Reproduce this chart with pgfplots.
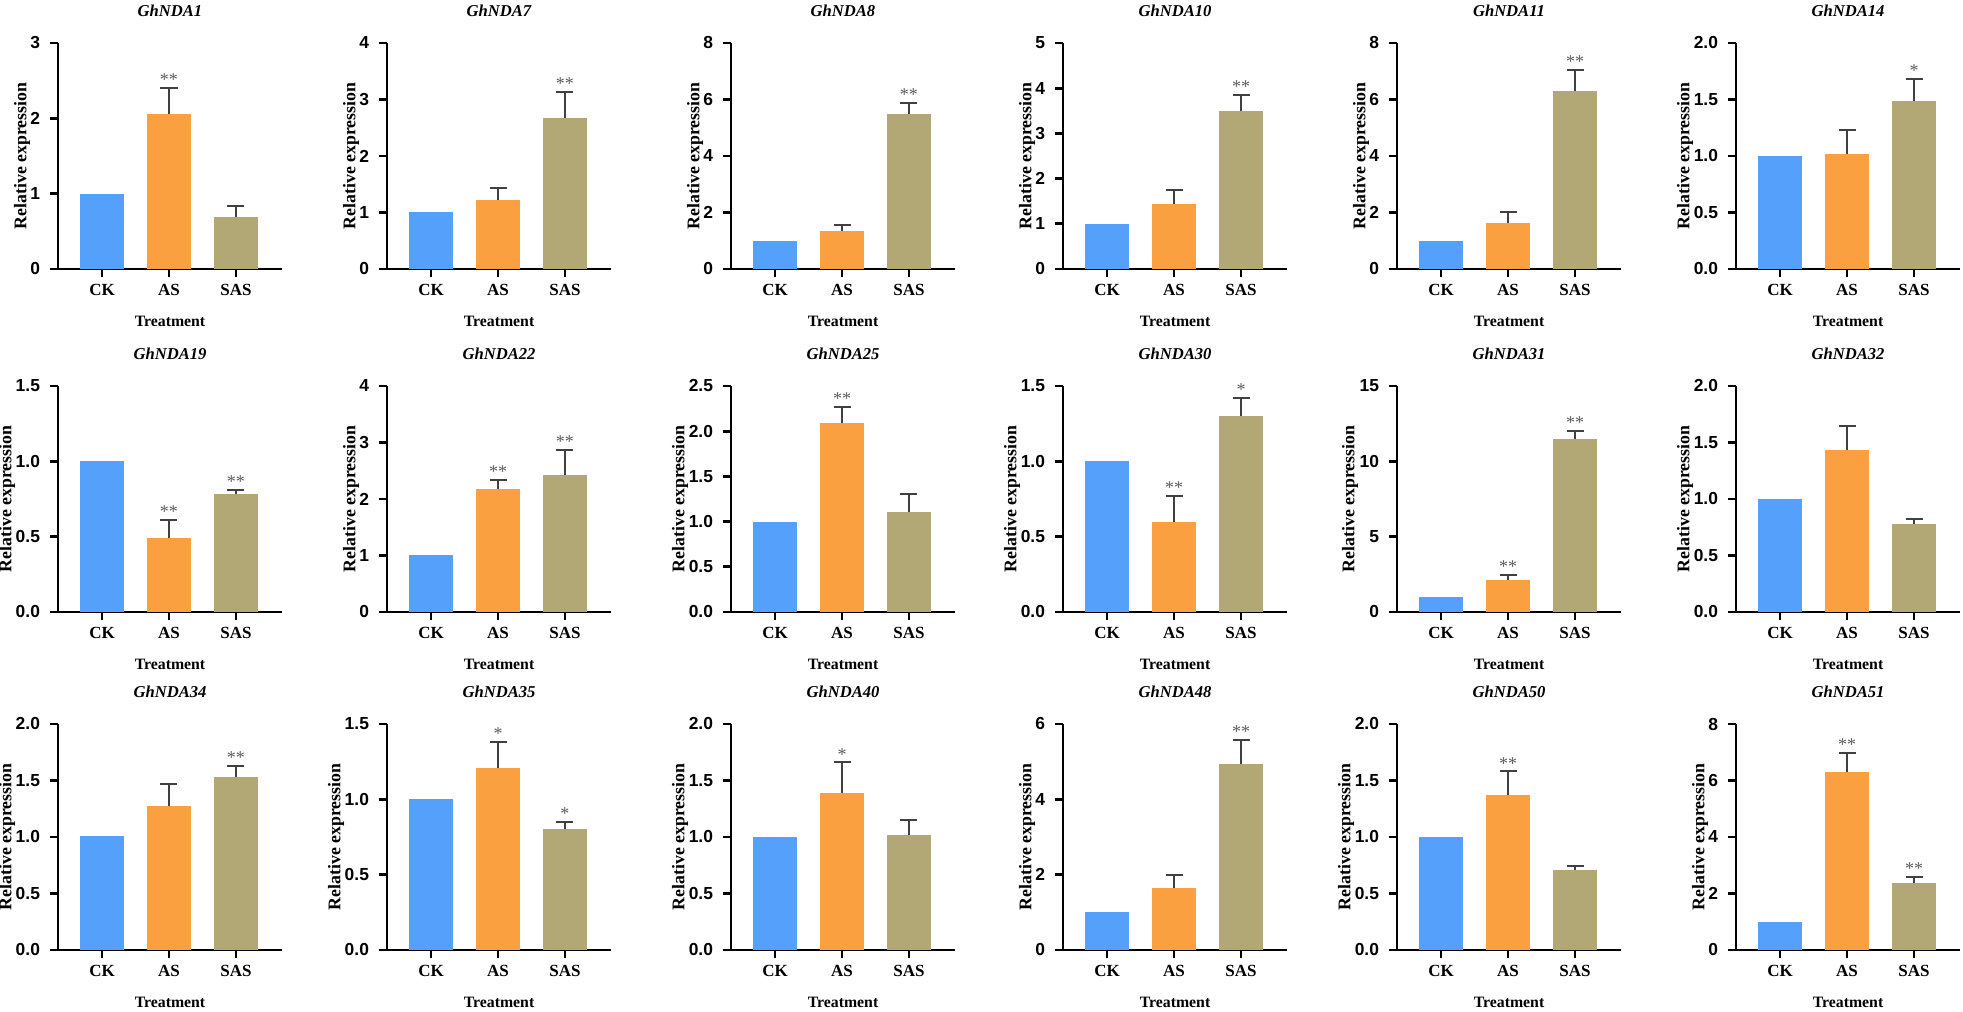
\documentclass[border=0pt]{standalone}
\usepackage{fontspec}
\setmainfont{Liberation Serif}
\setsansfont{Liberation Sans}
\usepackage{pgfplots}
\pgfplotsset{compat=1.18}

\definecolor{ckblue}{RGB}{85,160,251}
\definecolor{asorange}{RGB}{251,160,64}
\definecolor{saskhaki}{RGB}{178,168,118}
\definecolor{errgray}{RGB}{64,64,64}
\definecolor{stargray}{RGB}{90,90,90}

\pgfplotsset{
  gene/.style={
    scale only axis, width=112pt, height=113pt,
    anchor=south west,
    xmin=-0.657, xmax=2.687, ymin=0,
    axis x line=bottom, axis y line=left,
    axis line style={-, line width=1.4pt},
    tick align=outside, major tick length=4pt,
    tick style={line width=1.4pt, black},
    xtick={0,1,2}, xticklabels={CK,AS,SAS},
    xticklabel style={font=\bfseries\fontsize{8.5}{10}\selectfont},
    yticklabel style={font=\sffamily\bfseries\fontsize{8.7}{10}\selectfont, xshift=-1.5pt},
    /pgf/number format/assume math mode=true,
    xlabel={Treatment},
    xlabel style={font=\bfseries\fontsize{7.9}{9}\selectfont, yshift=-3.5pt},
    ylabel={Relative expression},
    title style={font=\bfseries\itshape\fontsize{8.3}{10}\selectfont,
      at={(0.5,1)}, anchor=center, yshift=10pt},
    clip=false,
    bar width=22pt, bar shift=0pt,
    yl=18pt,
  },
  % horizontal distance of the y label centre from the y axis
  yl/.style={ylabel style={font=\bfseries\fontsize{8.9}{10}\selectfont,
      at={([xshift=-#1]axis description cs:0,0.5)}, anchor=center}},
  dec1/.style={yl=25.5pt, yticklabel style={/pgf/number format/fixed,
      /pgf/number format/fixed zerofill, /pgf/number format/precision=1}},
  errs/.style={error bars/.cd, y dir=plus, y explicit,
    error bar style={line width=1pt, errgray},
    error mark options={rotate=90, line width=1pt, errgray, mark size=4.25pt}},
  ck/.style={ybar, fill=ckblue, draw=none},
  as/.style={ybar, fill=asorange, draw=none, errs},
  sas/.style={ybar, fill=saskhaki, draw=none, errs},
  stars/.style={only marks, mark=none, nodes near coords,
    point meta=explicit symbolic,
    every node near coord/.style={anchor=south, inner sep=1pt,
      font=\fontsize{9}{10}\selectfont, text=stargray}},
}

\begin{document}
\begin{tikzpicture}
\useasboundingbox (0,0) rectangle (981.5pt,505.5pt);

% ---- row 1 ----
\begin{axis}[gene, at={(29pt,371pt)}, title={GhNDA1}, ymax=3, ytick={0,1,2,3}]
\addplot[ck] coordinates {(0,1)};
\addplot[as] coordinates {(1,2.06) +- (0,0.34)};
\addplot[sas] coordinates {(2,0.69) +- (0,0.15)};
\addplot[stars] coordinates {(1,2.40) [**]};
\end{axis}

\begin{axis}[gene, at={(193.5pt,371pt)}, title={GhNDA7}, ymax=4, ytick={0,1,2,3,4}]
\addplot[ck] coordinates {(0,1)};
\addplot[as] coordinates {(1,1.22) +- (0,0.21)};
\addplot[sas] coordinates {(2,2.68) +- (0,0.46)};
\addplot[stars] coordinates {(2,3.14) [**]};
\end{axis}

\begin{axis}[gene, at={(365.5pt,371pt)}, title={GhNDA8}, ymax=8, ytick={0,2,4,6,8}]
\addplot[ck] coordinates {(0,1)};
\addplot[as] coordinates {(1,1.35) +- (0,0.21)};
\addplot[sas] coordinates {(2,5.48) +- (0,0.41)};
\addplot[stars] coordinates {(2,5.89) [**]};
\end{axis}

\begin{axis}[gene, at={(531.5pt,371pt)}, title={GhNDA10}, ymax=5, ytick={0,1,2,3,4,5}]
\addplot[ck] coordinates {(0,1)};
\addplot[as] coordinates {(1,1.44) +- (0,0.31)};
\addplot[sas] coordinates {(2,3.50) +- (0,0.36)};
\addplot[stars] coordinates {(2,3.86) [**]};
\end{axis}

\begin{axis}[gene, at={(698.5pt,371pt)}, title={GhNDA11}, ymax=8, ytick={0,2,4,6,8}]
\addplot[ck] coordinates {(0,1)};
\addplot[as] coordinates {(1,1.63) +- (0,0.39)};
\addplot[sas] coordinates {(2,6.31) +- (0,0.74)};
\addplot[stars] coordinates {(2,7.05) [**]};
\end{axis}

\begin{axis}[gene, dec1, at={(868pt,371pt)}, title={GhNDA14}, ymax=2, ytick={0,0.5,1,1.5,2}]
\addplot[ck] coordinates {(0,1)};
\addplot[as] coordinates {(1,1.02) +- (0,0.21)};
\addplot[sas] coordinates {(2,1.49) +- (0,0.19)};
\addplot[stars] coordinates {(2,1.68) [*]};
\end{axis}

% ---- row 2 ----
\begin{axis}[gene, dec1, at={(29pt,199.5pt)}, title={GhNDA19}, ymax=1.5, ytick={0,0.5,1,1.5}]
\addplot[ck] coordinates {(0,1)};
\addplot[as] coordinates {(1,0.49) +- (0,0.12)};
\addplot[sas] coordinates {(2,0.78) +- (0,0.03)};
\addplot[stars] coordinates {(1,0.61) [**] (2,0.81) [**]};
\end{axis}

\begin{axis}[gene, at={(193.5pt,199.5pt)}, title={GhNDA22}, ymax=4, ytick={0,1,2,3,4}]
\addplot[ck] coordinates {(0,1)};
\addplot[as] coordinates {(1,2.18) +- (0,0.16)};
\addplot[sas] coordinates {(2,2.43) +- (0,0.44)};
\addplot[stars] coordinates {(1,2.34) [**] (2,2.87) [**]};
\end{axis}

\begin{axis}[gene, dec1, at={(365.5pt,199.5pt)}, title={GhNDA25}, ymax=2.5, ytick={0,0.5,1,1.5,2,2.5}]
\addplot[ck] coordinates {(0,1)};
\addplot[as] coordinates {(1,2.09) +- (0,0.18)};
\addplot[sas] coordinates {(2,1.11) +- (0,0.19)};
\addplot[stars] coordinates {(1,2.27) [**]};
\end{axis}

\begin{axis}[gene, dec1, at={(531.5pt,199.5pt)}, title={GhNDA30}, ymax=1.5, ytick={0,0.5,1,1.5}]
\addplot[ck] coordinates {(0,1)};
\addplot[as] coordinates {(1,0.60) +- (0,0.17)};
\addplot[sas] coordinates {(2,1.30) +- (0,0.12)};
\addplot[stars] coordinates {(1,0.77) [**] (2,1.42) [*]};
\end{axis}

\begin{axis}[gene, yl=23.5pt, at={(698.5pt,199.5pt)}, title={GhNDA31}, ymax=15, ytick={0,5,10,15}]
\addplot[ck] coordinates {(0,1)};
\addplot[as] coordinates {(1,2.12) +- (0,0.31)};
\addplot[sas] coordinates {(2,11.5) +- (0,0.53)};
\addplot[stars] coordinates {(1,2.43) [**] (2,12.03) [**]};
\end{axis}

\begin{axis}[gene, dec1, at={(868pt,199.5pt)}, title={GhNDA32}, ymax=2, ytick={0,0.5,1,1.5,2}]
\addplot[ck] coordinates {(0,1)};
\addplot[as] coordinates {(1,1.43) +- (0,0.22)};
\addplot[sas] coordinates {(2,0.78) +- (0,0.04)};
\end{axis}

% ---- row 3 ----
\begin{axis}[gene, dec1, at={(29pt,30.5pt)}, title={GhNDA34}, ymax=2, ytick={0,0.5,1,1.5,2}]
\addplot[ck] coordinates {(0,1.01)};
\addplot[as] coordinates {(1,1.27) +- (0,0.20)};
\addplot[sas] coordinates {(2,1.53) +- (0,0.10)};
\addplot[stars] coordinates {(2,1.63) [**]};
\end{axis}

\begin{axis}[gene, dec1, at={(193.5pt,30.5pt)}, title={GhNDA35}, ymax=1.5, ytick={0,0.5,1,1.5}]
\addplot[ck] coordinates {(0,1)};
\addplot[as] coordinates {(1,1.21) +- (0,0.17)};
\addplot[sas] coordinates {(2,0.80) +- (0,0.05)};
\addplot[stars] coordinates {(1,1.38) [*] (2,0.85) [*]};
\end{axis}

\begin{axis}[gene, dec1, at={(365.5pt,30.5pt)}, title={GhNDA40}, ymax=2, ytick={0,0.5,1,1.5,2}]
\addplot[ck] coordinates {(0,1)};
\addplot[as] coordinates {(1,1.39) +- (0,0.27)};
\addplot[sas] coordinates {(2,1.02) +- (0,0.13)};
\addplot[stars] coordinates {(1,1.66) [*]};
\end{axis}

\begin{axis}[gene, at={(531.5pt,30.5pt)}, title={GhNDA48}, ymax=6, ytick={0,2,4,6}]
\addplot[ck] coordinates {(0,1)};
\addplot[as] coordinates {(1,1.65) +- (0,0.35)};
\addplot[sas] coordinates {(2,4.93) +- (0,0.65)};
\addplot[stars] coordinates {(2,5.58) [**]};
\end{axis}

\begin{axis}[gene, dec1, at={(698.5pt,30.5pt)}, title={GhNDA50}, ymax=2, ytick={0,0.5,1,1.5,2}]
\addplot[ck] coordinates {(0,1)};
\addplot[as] coordinates {(1,1.37) +- (0,0.21)};
\addplot[sas] coordinates {(2,0.71) +- (0,0.03)};
\addplot[stars] coordinates {(1,1.58) [**]};
\end{axis}

\begin{axis}[gene, at={(868pt,30.5pt)}, title={GhNDA51}, ymax=8, ytick={0,2,4,6,8}]
\addplot[ck] coordinates {(0,1)};
\addplot[as] coordinates {(1,6.31) +- (0,0.65)};
\addplot[sas] coordinates {(2,2.36) +- (0,0.24)};
\addplot[stars] coordinates {(1,6.96) [**] (2,2.60) [**]};
\end{axis}
\end{tikzpicture}
\end{document}
